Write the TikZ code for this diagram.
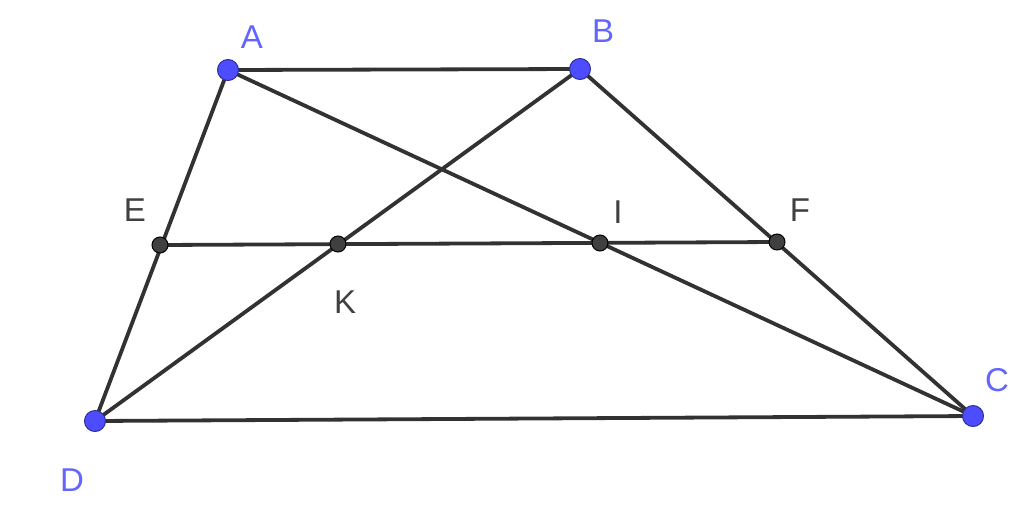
\documentclass[tikz,border=0pt]{standalone}
\usepackage{fontspec}
\setmainfont{Liberation Sans}
\definecolor{ptblue}{RGB}{77,77,255}
\definecolor{lblblue}{RGB}{100,100,255}
\definecolor{ptdark}{RGB}{64,64,64}
\definecolor{segc}{RGB}{50,50,50}
\begin{document}
\begin{tikzpicture}[x=1pt,y=-1pt,
  seg/.style={draw=segc,line width=3.8pt},
  freept/.style={circle,fill=ptblue,draw=ptblue!60!black,line width=1pt,minimum size=21pt,inner sep=0pt},
  deppt/.style={circle,fill=ptdark,draw=black,line width=1pt,minimum size=16pt,inner sep=0pt},
  blbl/.style={text=lblblue,font=\fontsize{33}{33}\selectfont,inner sep=0pt},
  dlbl/.style={text=ptdark,font=\fontsize{33}{33}\selectfont,inner sep=0pt}]
\useasboundingbox (0,0) rectangle (1024,528);
\coordinate (A) at (228,70);
\coordinate (B) at (580,69);
\coordinate (C) at (973,416);
\coordinate (D) at (95,421);
\coordinate (E) at (160,245);
\coordinate (K) at (338,244);
\coordinate (I) at (600,243);
\coordinate (F) at (777,242);
\draw[seg] (A) -- (B);
\draw[seg] (B) -- (C);
\draw[seg] (C) -- (D);
\draw[seg] (D) -- (A);
\draw[seg] (A) -- (C);
\draw[seg] (B) -- (D);
\draw[seg] (E) -- (F);
\node[freept] (pA) at (A) {};
\node[freept] (pB) at (B) {};
\node[freept] (pC) at (C) {};
\node[freept] (pD) at (D) {};
\node[deppt] (pE) at (E) {};
\node[deppt] (pK) at (K) {};
\node[deppt] (pI) at (I) {};
\node[deppt] (pF) at (F) {};
\node[blbl] (lA) at (252,37) {A};
\node[blbl] (lB) at (603,31) {B};
\node[blbl] (lC) at (997,380) {C};
\node[blbl] (lD) at (72,480) {D};
\node[dlbl] (lE) at (135,210) {E};
\node[dlbl] (lF) at (800,210) {F};
\node[dlbl] (lI) at (618,212) {I};
\node[dlbl] (lK) at (345,302) {K};
\end{tikzpicture}
\end{document}
